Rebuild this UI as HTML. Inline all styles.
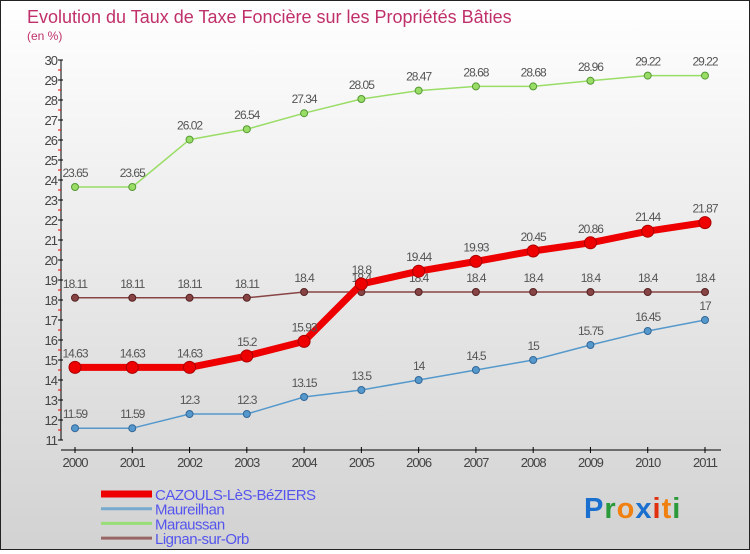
<!DOCTYPE html>
<html><head><meta charset="utf-8"><style>
html,body{margin:0;padding:0}
body{width:750px;height:550px;overflow:hidden;font-family:"Liberation Sans",sans-serif}
#wrap{position:relative;width:748px;height:548px;border:1px solid #222;background:linear-gradient(#ffffff,#d2d2d2)}
</style></head><body>
<div id="wrap">
<svg id="chart" width="748" height="548"></svg>
</div>
<script>
const years=["2000","2001","2002","2003","2004","2005","2006","2007","2008","2009","2010","2011"];
const cazouls=[14.63,14.63,14.63,15.2,15.93,18.8,19.44,19.93,20.45,20.86,21.44,21.87];
const maureilhan=[11.59,11.59,12.3,12.3,13.15,13.5,14,14.5,15,15.75,16.45,17];
const maraussan=[23.65,23.65,26.02,26.54,27.34,28.05,28.47,28.68,28.68,28.96,29.22,29.22];
const lignan=[18.11,18.11,18.11,18.11,18.4,18.4,18.4,18.4,18.4,18.4,18.4,18.4];
const yTicks=[11,12,13,14,15,16,17,18,19,20,21,22,23,24,25,26,27,28,29,30];
const seriesNames=["CAZOULS-LèS-BéZIERS","Maureilhan","Maraussan","Lignan-sur-Orb"];

const svg=document.getElementById('chart');
const NS='http://www.w3.org/2000/svg';
function x(i){return 74+i*(630/11);}
function y(v){return 59+(30-v)*20;}
function mk(tag,attrs,parent){const e=document.createElementNS(NS,tag);for(const k in attrs)e.setAttribute(k,attrs[k]);(parent||svg).appendChild(e);return e;}

let t=mk('text',{x:26,y:22,'font-size':18,fill:'#c0306a'});t.textContent='Evolution du Taux de Taxe Foncière sur les Propriétés Bâties';


t=mk('text',{x:26,y:39,'font-size':12,fill:'#c0306a'});t.textContent='(en %)';



let ya=mk('g',{});


mk('line',{x1:60,y1:y(30),x2:60,y2:y(11),stroke:'#000','stroke-width':1},ya);
yTicks.forEach(v=>{
  mk('line',{x1:57,y1:y(v),x2:62,y2:y(v),stroke:'#000'},ya);
  if(v<30) mk('line',{x1:57,y1:y(v+0.5),x2:60,y2:y(v+0.5),stroke:'#e00'},ya);
  const l=mk('text',{x:56,y:y(v)+5,'font-size':13,'text-anchor':'end',fill:'#444','letter-spacing':'-1'},ya);l.textContent=v;
  
  
});
let xa=mk('g',{});


mk('line',{x1:60,y1:449,x2:720,y2:449,stroke:'#000'},xa);
years.forEach((yr,i)=>{
  mk('line',{x1:x(i),y1:446,x2:x(i),y2:452,stroke:'#000'},xa);
  const l=mk('text',{x:x(i),y:466,'font-size':13,'text-anchor':'middle',fill:'#444','letter-spacing':'-1'},xa);l.textContent=yr;
  
  
});

function series(vals,color,dark,w,r,name){
  const g=mk('g',{});
  
  
  const pts=vals.map((v,i)=>x(i)+','+y(v)).join(' ');
  mk('polyline',{points:pts,fill:'none',stroke:color,'stroke-width':w,'stroke-linejoin':'round'},g);
  vals.forEach((v,i)=>{
    const c=mk('circle',{cx:x(i),cy:y(v),r:r,fill:color,stroke:dark,'stroke-width':1},g);
    
    
    const l=mk('text',{x:x(i),y:y(v)-10,'font-size':12,'text-anchor':'middle',fill:'#555','letter-spacing':'-1'},g);
    l.textContent=String(v);
    
    
  });
}
series(maraussan,'#99dd66','#559933',1.5,3.5,'series-maraussan');
series(lignan,'#884444','#552222',1.5,3.5,'series-lignan');
series(maureilhan,'#5599cc','#336699',1.5,3.5,'series-maureilhan');
series(cazouls,'#ee0000','#aa0000',7,6,'series-cazouls');

const lcol=['#ee0000','#77aacc','#99dd77','#996666'];
const lw=[7,3,3,3];
seriesNames.forEach((n,i)=>{
  const g=mk('g',{});
  
  
  const yy=493+i*14.7;
  mk('line',{x1:100,y1:yy,x2:151,y2:yy,stroke:lcol[i],'stroke-width':lw[i]},g);
  const l=mk('text',{x:154,y:yy+6,'font-size':15,fill:'#5555ee','letter-spacing':'-0.5'},g);l.textContent=n;
});

const lg=mk('text',{x:583,y:517,'font-size':29,'font-weight':'bold','letter-spacing':'1'});


[['P','#1a6fcf'],['r','#2a9a3a'],['o','#f08010'],['x','#1a6fcf'],['i','#e03010'],['t','#f08010'],['i','#2a9a3a']].forEach(([c,col])=>{const s=mk('tspan',{fill:col},lg);s.textContent=c;});
</script>
</body></html>
